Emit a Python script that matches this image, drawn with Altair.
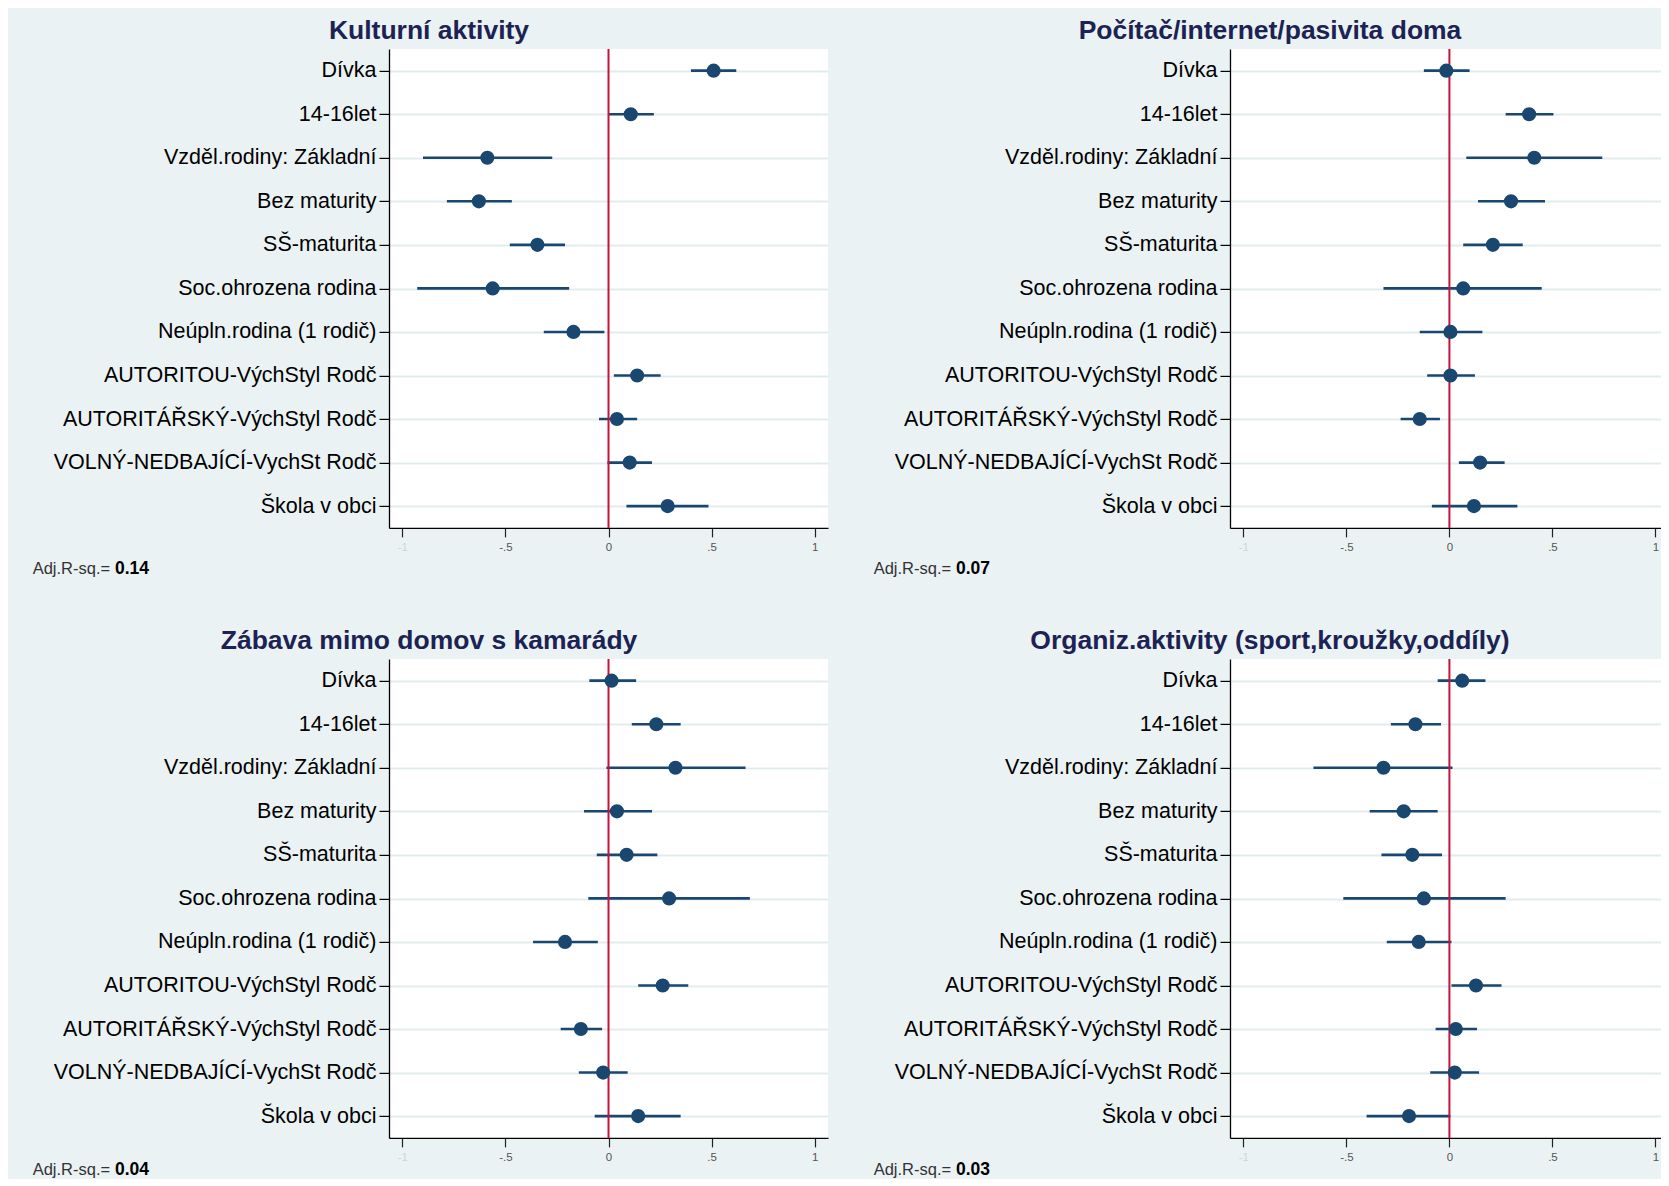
import altair as alt
import pandas as pd

# ---------------- data ----------------
labels = [
    "Dívka",
    "14-16let",
    "Vzděl.rodiny: Základní",
    "Bez maturity",
    "SŠ-maturita",
    "Soc.ohrozena rodina",
    "Neúpln.rodina (1 rodič)",
    "AUTORITOU-VýchStyl Rodč",
    "AUTORITÁŘSKÝ-VýchStyl Rodč",
    "VOLNÝ-NEDBAJÍCÍ-VychSt Rodč",
    "Škola v obci",
]

titles = [
    "Kulturní aktivity",
    "Počítač/internet/pasivita doma",
    "Zábava mimo domov s kamarády",
    "Organiz.aktivity (sport,kroužky,oddíly)",
]
r2_values = ["0.14", "0.07", "0.04", "0.03"]

x_ticks = [-1, -0.5, 0, 0.5, 1]
x_tick_labels = ["-1", "-.5", "0", ".5", "1"]

kult_coef = [0.51, 0.108, -0.588, -0.629, -0.345, -0.562, -0.17, 0.139, 0.041, 0.103, 0.287]
kult_lo = [0.40, 0.0, -0.90, -0.784, -0.479, -0.928, -0.314, 0.026, -0.046, -0.005, 0.087]
kult_hi = [0.62, 0.22, -0.273, -0.469, -0.211, -0.191, -0.02, 0.253, 0.139, 0.211, 0.485]

pc_coef = [-0.015, 0.387, 0.412, 0.299, 0.211, 0.067, 0.005, 0.005, -0.144, 0.149, 0.119]
pc_lo = [-0.124, 0.273, 0.082, 0.139, 0.067, -0.32, -0.144, -0.108, -0.237, 0.046, -0.085]
pc_hi = [0.098, 0.505, 0.742, 0.464, 0.356, 0.448, 0.16, 0.124, -0.046, 0.268, 0.33]

zab_coef = [0.015, 0.232, 0.325, 0.041, 0.088, 0.294, -0.211, 0.263, -0.134, -0.026, 0.144]
zab_lo = [-0.093, 0.113, -0.01, -0.119, -0.057, -0.098, -0.366, 0.144, -0.232, -0.144, -0.067]
zab_hi = [0.134, 0.35, 0.665, 0.211, 0.237, 0.686, -0.052, 0.387, -0.031, 0.093, 0.35]

org_coef = [0.062, -0.165, -0.32, -0.222, -0.18, -0.124, -0.149, 0.129, 0.031, 0.026, -0.196]
org_lo = [-0.057, -0.284, -0.66, -0.387, -0.33, -0.515, -0.304, 0.01, -0.067, -0.093, -0.402]
org_hi = [0.175, -0.041, 0.015, -0.057, -0.036, 0.273, 0.01, 0.253, 0.134, 0.144, 0.005]

panels = [
    (kult_coef, kult_lo, kult_hi),
    (pc_coef, pc_lo, pc_hi),
    (zab_coef, zab_lo, zab_hi),
    (org_coef, org_lo, org_hi),
]

# ---------------- style ----------------
H = 479
# left column shows the full range, right column is cut by the picture edge
widths = [439, 431, 439, 431]
domains = [[-1.065, 1.065], [-1.065, 1.027], [-1.065, 1.065], [-1.065, 1.027]]
adj_offsets = [41.5, 41.5, 32, 32]

FONT = "Liberation Sans"
NAVY = "#1a476f"
RED = "#c8123c"
TITLE_COLOR = "#1c2354"
GRID = "#e2ebee"
BG = "#eaf2f3"

label_expr = " : ".join(
    f"datum.value == {v} ? '{t}'" for v, t in zip(x_ticks[:-1], x_tick_labels[:-1])
) + f" : '{x_tick_labels[-1]}'"

x_axis = alt.Axis(
    title=None,
    values=x_ticks,
    labelExpr=label_expr,
    grid=False,
    domainColor="black",
    domainWidth=1.3,
    tickColor="#222222",
    tickSize=9,
    tickWidth=1.2,
    labelFont=FONT,
    labelFontSize=11.5,
    labelColor={"condition": {"test": "datum.value == -1", "value": "#d0d6d8"}, "value": "#555555"},
    labelPadding=5,
    labelFlush=False,
)
y_axis = alt.Axis(
    title=None,
    grid=True,
    gridColor=GRID,
    gridWidth=2,
    domainColor="black",
    domainWidth=1.3,
    tickColor="black",
    tickSize=10,
    tickWidth=1.2,
    labelFont=FONT,
    labelFontSize=21.5,
    labelColor="black",
    labelPadding=3,
    labelLimit=0,
)
y_enc = alt.Y("label:N", sort=labels, scale=alt.Scale(type="point", padding=0.5), axis=y_axis)


def panel(title, coef, lo, hi, r2, width, domain, adj_off):
    x_scale = alt.Scale(domain=domain, nice=False, zero=False)

    def xq(field):
        return alt.X(f"{field}:Q", scale=x_scale, axis=x_axis)

    df = pd.DataFrame({"label": labels, "coef": coef, "lo": lo, "hi": hi})
    base = alt.Chart(df)
    ci = base.mark_rule(color=NAVY, strokeWidth=2.6).encode(y=y_enc, x=xq("lo"), x2="hi:Q")
    zero = alt.Chart(pd.DataFrame({"z": [0]})).mark_rule(color=RED, strokeWidth=2).encode(x=xq("z"))
    pts = base.mark_circle(size=200, color=NAVY, opacity=1).encode(y=y_enc, x=xq("coef"))
    ttl = alt.Chart(pd.DataFrame({"t": [title]})).mark_text(
        font=FONT, fontSize=26.5, fontWeight="bold", color=TITLE_COLOR, align="center", baseline="middle"
    ).encode(x=alt.value(40), y=alt.value(-18), text="t:N")
    adj1 = alt.Chart(pd.DataFrame({"t": ["Adj.R-sq.="]})).mark_text(
        font=FONT, fontSize=16.5, color="#333333", align="left", baseline="middle"
    ).encode(x=alt.value(-356.3), y=alt.value(H + adj_off), text="t:N")
    adj2 = alt.Chart(pd.DataFrame({"t": [r2]})).mark_text(
        font=FONT, fontSize=17.5, fontWeight="bold", color="black", align="left", baseline="middle"
    ).encode(x=alt.value(-274), y=alt.value(H + adj_off), text="t:N")
    return alt.layer(ci, zero, pts, ttl, adj1, adj2).properties(width=width, height=H)


charts = [
    panel(t, *p, r, w, d, a)
    for t, p, r, w, d, a in zip(titles, panels, r2_values, widths, domains, adj_offsets)
]

chart = (
    alt.concat(*charts, columns=2, spacing={"row": 131, "column": 402}, bounds="flush")
    .properties(padding={"left": 24, "top": 9.9, "right": 0, "bottom": 0}, background=BG)
    .configure_view(fill="white", strokeWidth=0)
)

chart.save("out.html", embed_options={"renderer": "svg", "actions": False})
